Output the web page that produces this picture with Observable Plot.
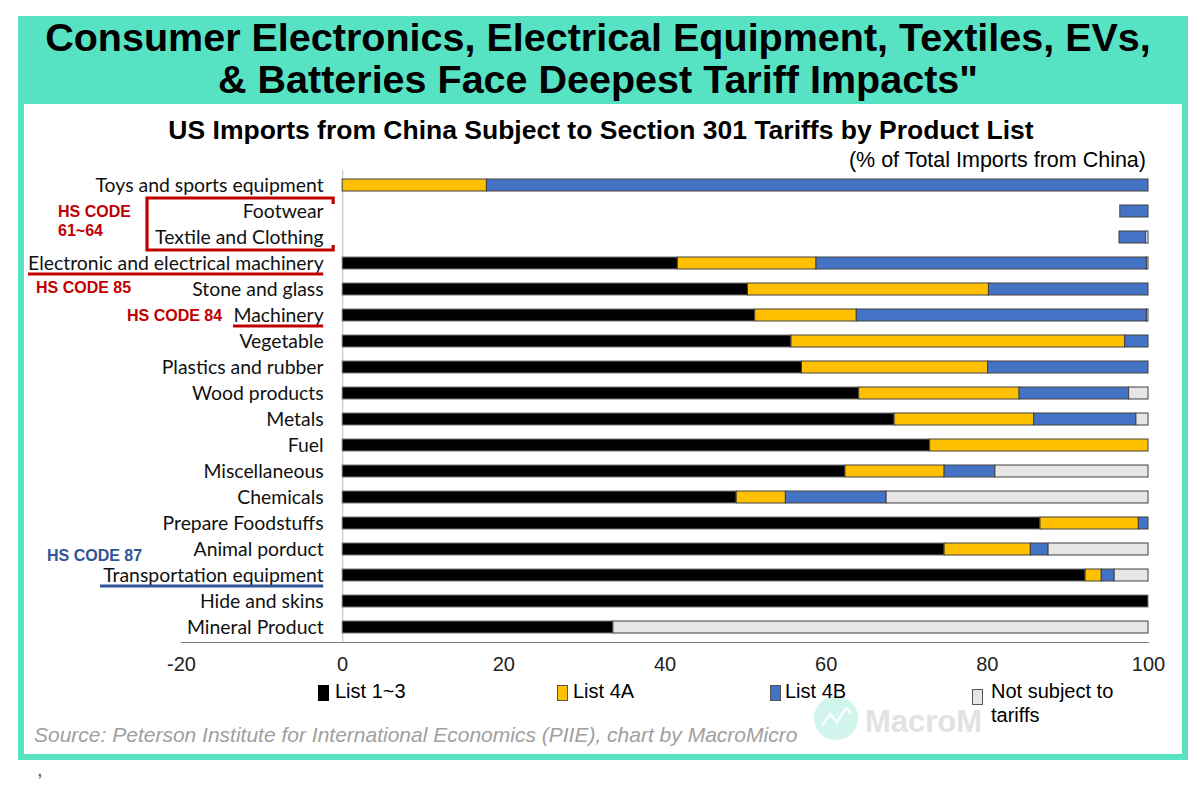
<!DOCTYPE html>
<html>
<head>
<meta charset="utf-8">
<script src="https://cdn.jsdelivr.net/npm/d3@7"></script>
<script src="https://cdn.jsdelivr.net/npm/@observablehq/plot@0.6"></script>
<style>
  html, body { margin: 0; padding: 0; background: #fff; }
  #wrap { position: relative; width: 1200px; height: 786px; overflow: hidden; font-family: "Liberation Sans", Arial, sans-serif; }
  .abs { position: absolute; }
  #banner { left: 18px; top: 16px; width: 1170px; height: 88px; background: #57e2c4; }
  #panel { left: 18px; top: 104px; width: 1158px; height: 650px; border: 6px solid #57e2c4; border-top: none; background: #fff; }
  #title { left: 8px; top: 16px; width: 1180px; text-align: center; font-weight: bold; font-size: 39.5px; line-height: 42px; color: #000; }
  #subtitle { left: 0; top: 115px; width: 1202px; text-align: center; font-weight: bold; font-size: 26.5px; color: #000; }
  #unit { right: 54px; top: 148px; font-size: 21.5px; color: #000; }
  #chart { left: 0; top: 0; }
  #overlay { left: 0; top: 0; pointer-events: none; }
  .leg { position: absolute; font-size: 20px; line-height: 24px; color: #000; }
  .sw { position: absolute; width: 9px; height: 14px; border: 1px solid #555; }
  #source { left: 34px; top: 723px; font-size: 21px; font-style: italic; color: #a0a0a0; }
  #comma { left: 37px; top: 758px; font-size: 20px; color: #555; }
</style>
</head>
<body>
<div id="wrap">
  <div id="banner" class="abs"></div>
  <div id="panel" class="abs"></div>
  <div id="title" class="abs">Consumer Electronics, Electrical Equipment, Textiles, EVs,<br>&amp; Batteries Face Deepest Tariff Impacts"</div>
  <div id="subtitle" class="abs">US Imports from China Subject to Section 301 Tariffs by Product List</div>
  <div id="unit" class="abs">(% of Total Imports from China)</div>
  <div id="chartHolder"></div>
  <div id="legend"></div>
  <div id="source" class="abs">Source: Peterson Institute for International Economics (PIIE), chart by MacroMicro</div>
  <div id="comma" class="abs">,</div>
</div>
<script>
// ---------------- data ----------------
const categories = [
  "Toys and sports equipment", "Footwear", "Textile and Clothing",
  "Electronic and electrical machinery", "Stone and glass", "Machinery",
  "Vegetable", "Plastics and rubber", "Wood products", "Metals", "Fuel",
  "Miscellaneous", "Chemicals", "Prepare Foodstuffs", "Animal porduct",
  "Transportation equipment", "Hide and skins", "Mineral Product"
];
// unfilled leading gap shown in the original (Footwear / Textile rows)
const blankGap = [0, 96.5, 96.4, 0, 0, 0, 0, 0, 0, 0, 0, 0, 0, 0, 0, 0, 0, 0];
const list13   = [0, 0, 0, 41.6, 50.3, 51.2, 55.7, 57.0, 64.1, 68.5, 72.9, 62.4, 48.9, 86.6, 74.7, 92.2, 100, 33.6];
const list4A   = [17.9, 0, 0, 17.2, 29.9, 12.6, 41.4, 23.1, 19.9, 17.3, 27.1, 12.3, 6.1, 12.2, 10.7, 2.0, 0, 0];
const list4B   = [82.1, 3.5, 3.3, 41.0, 19.8, 36.0, 2.9, 19.9, 13.6, 12.7, 0, 6.3, 12.5, 1.2, 2.2, 1.6, 0, 0];
const notSubj  = [0, 0, 0.3, 0.2, 0, 0.2, 0, 0, 2.4, 1.5, 0, 19.0, 32.5, 0, 12.4, 4.2, 0, 66.4];
const seriesNames = ["List 1~3", "List 4A", "List 4B", "Not subject to tariffs"];
const seriesColors = ["#000000", "#ffc000", "#4472c4", "#e7e6e6"];
const xTicks = [-20, 0, 20, 40, 60, 80, 100];

// ---------------- build segments table ----------------
const seriesValues = [list13, list4A, list4B, notSubj];
const segments = [];
categories.forEach((cat, i) => {
  let acc = blankGap[i];
  seriesValues.forEach((vals, s) => {
    const v = vals[i];
    if (v > 0) {
      segments.push({cat, series: seriesNames[s], color: seriesColors[s], x1: acc, x2: acc + v});
    }
    acc += v;
  });
});

const chart = Plot.plot({
  width: 1200,
  height: 700,
  marginLeft: 181,
  marginRight: 52,
  marginTop: 170,
  marginBottom: 58,
  style: {background: "transparent", fontFamily: "Liberation Sans, Arial, sans-serif", fontSize: "18px", color: "#222"},
  x: {domain: [-20, 100], ticks: xTicks},
  y: {domain: categories, paddingInner: 0.54, paddingOuter: 0.3, axis: null},
  marks: [
    Plot.ruleX([0], {stroke: "#c8c8c8", strokeWidth: 1.2}),
    Plot.barX(segments, {
      x1: "x1", x2: "x2", y: "cat",
      fill: "color",
      stroke: d => d.series === "List 1~3" ? "#777" : "#404040",
      strokeWidth: 1
    }),
    Plot.text(categories, {
      x: () => 0, y: d => d, text: d => d,
      dx: -19, textAnchor: "end",
      fontFamily: "Lato, 'Open Sans', sans-serif", fontSize: 19.4, fill: "#111"
    }),
    Plot.axisX({ticks: xTicks, tickFormat: d => String(d), tickSize: 0, tickPadding: 14, fontSize: 20, label: null, fill: "#222"}),
    Plot.frame({anchor: "bottom", stroke: "#7f7f7f", strokeWidth: 1.2})
  ]
});
chart.id = "chart";
chart.classList.add("abs");
chart.style.position = "absolute";
document.getElementById("chartHolder").appendChild(chart);

// ---------------- annotations tied to scales ----------------
const Y = chart.scale("y");
const X = chart.scale("x");
const yc = c => Y.apply(c) + Y.bandwidth / 2;
const x0 = X.apply(0);
const labelEnd = x0 - 19;
const red = "#c00000", blue = "#2f5597";

const ns = "http://www.w3.org/2000/svg";
const ov = document.createElementNS(ns, "svg");
ov.setAttribute("width", 1200); ov.setAttribute("height", 786);
ov.setAttribute("class", "abs"); ov.id = "overlay";
ov.style.position = "absolute"; ov.style.left = "0"; ov.style.top = "0";
function el(tag, attrs, text) {
  const e = document.createElementNS(ns, tag);
  for (const k in attrs) e.setAttribute(k, attrs[k]);
  if (text != null) e.textContent = text;
  ov.appendChild(e);
  return e;
}
const yTop = (yc(categories[0]) + yc(categories[1])) / 2;
const yBot = (yc(categories[2]) + yc(categories[3])) / 2;
const bx = x0 - 9;
el("path", {d: `M${bx},${yTop + 6} V${yTop} H147 V${yBot} H${bx} V${yBot - 5}`, fill: "none", stroke: red, "stroke-width": 3.2});
const ub = (c, xStart, color) => el("line", {x1: xStart, x2: labelEnd, y1: yc(c) + 11, y2: yc(c) + 11, stroke: color, "stroke-width": 3.2});
ub("Electronic and electrical machinery", 28, red);
ub("Machinery", 233, red);
ub("Transportation equipment", 100, blue);
const ann = (x, y, t, color) => el("text", {x, y, fill: color, "font-family": "Liberation Sans, Arial, sans-serif", "font-weight": "bold", "font-size": 16, "dominant-baseline": "middle"}, t);
ann(58, yc(categories[1]) + 2, "HS CODE", red);
ann(58, yc(categories[2]) - 5, "61~64", red);
ann(36, yc("Stone and glass"), "HS CODE 85", red);
ann(127, yc("Machinery") + 2, "HS CODE 84", red);
ann(47, (yc("Animal porduct") + yc("Transportation equipment")) / 2 - 5, "HS CODE 87", blue);

// watermark
el("circle", {cx: 836, cy: 718, r: 22, fill: "#bdf1e4", opacity: 0.7});
el("path", {d: "M822,726 L830,714 L837,722 L846,708 L851,713", fill: "none", stroke: "#fff", "stroke-width": 2.5, opacity: 0.9});
el("text", {x: 865, y: 732, fill: "#e2e2e2", "font-family": "Liberation Sans, Arial, sans-serif", "font-weight": "bold", "font-size": 31}, "MacroM");
document.getElementById("wrap").insertBefore(ov, document.getElementById("legend"));

// ---------------- legend ----------------
const legend = document.getElementById("legend");
const legPos = [
  {sx: 318, tx: 335},
  {sx: 557, tx: 573},
  {sx: 770, tx: 785},
  {sx: 972, tx: 991}
];
seriesNames.forEach((name, i) => {
  const sw = document.createElement("div");
  sw.className = "sw";
  sw.style.left = legPos[i].sx + "px";
  sw.style.top = (i === 3 ? 689 : 685) + "px";
  sw.style.background = seriesColors[i];
  if (i === 0) sw.style.borderColor = "#000";
  legend.appendChild(sw);
  const t = document.createElement("div");
  t.className = "leg";
  t.style.left = legPos[i].tx + "px";
  t.style.top = "679px";
  if (i === 3) { t.innerHTML = "Not subject to<br>tariffs"; }
  else t.textContent = name;
  legend.appendChild(t);
});
</script>
</body>
</html>
